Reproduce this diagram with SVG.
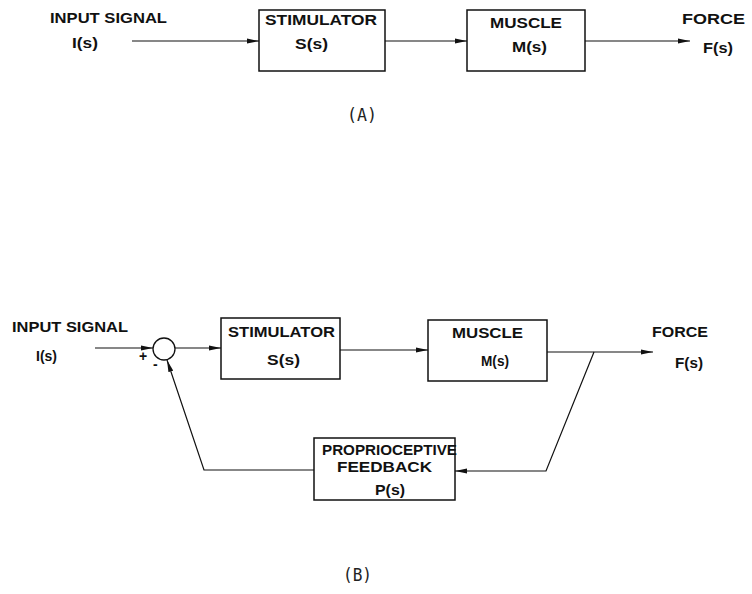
<svg xmlns="http://www.w3.org/2000/svg" width="752" height="594" viewBox="0 0 752 594">
<style>
.lbl{font-family:"Liberation Sans",Arial,sans-serif;font-weight:bold;font-size:15px;fill:#111}
.cap{font-family:"DejaVu Sans Mono","Liberation Mono",monospace;font-size:17px;fill:#222}
.box{fill:none;stroke:#111;stroke-width:1.5}
.ln{fill:none;stroke:#111;stroke-width:1.2}
.sign{font-family:"Liberation Sans",Arial,sans-serif;font-weight:bold;font-size:14px;fill:#111}
</style>
<defs>
<marker id="arr" viewBox="0 0 12 6" refX="12" refY="3" markerWidth="12" markerHeight="6" markerUnits="userSpaceOnUse" orient="auto">
<path d="M0,0.5 L12,3 L0,5.5 Z" fill="#111"/>
</marker>
</defs>
<rect width="752" height="594" fill="#fff"/>

<!-- Part A -->
<g id="a-input">
<text class="lbl" x="50" y="23" textLength="117" lengthAdjust="spacingAndGlyphs">INPUT SIGNAL</text>
<text class="lbl" x="72" y="48" textLength="26" lengthAdjust="spacingAndGlyphs">I(s)</text>
</g>
<g id="a-stimulator">
<rect class="box" x="259" y="10" width="126" height="61"/>
<text class="lbl" x="265" y="25" textLength="112" lengthAdjust="spacingAndGlyphs">STIMULATOR</text>
<text class="lbl" x="295" y="49" textLength="33" lengthAdjust="spacingAndGlyphs">S(s)</text>
</g>
<g id="a-muscle">
<rect class="box" x="467" y="10" width="118" height="61"/>
<text class="lbl" x="490" y="28" textLength="72" lengthAdjust="spacingAndGlyphs">MUSCLE</text>
<text class="lbl" x="512" y="52" textLength="35" lengthAdjust="spacingAndGlyphs">M(s)</text>
</g>
<g id="a-force">
<text class="lbl" x="682" y="24" textLength="63" lengthAdjust="spacingAndGlyphs">FORCE</text>
<text class="lbl" x="703" y="53" textLength="30" lengthAdjust="spacingAndGlyphs">F(s)</text>
</g>
<text class="cap" x="347" y="121" textLength="30" lengthAdjust="spacingAndGlyphs">(A)</text>

<!-- Part B -->
<g id="b-input">
<text class="lbl" x="12" y="332" textLength="116" lengthAdjust="spacingAndGlyphs">INPUT SIGNAL</text>
<text class="lbl" x="36" y="361" textLength="21" lengthAdjust="spacingAndGlyphs">I(s)</text>
</g>
<g id="b-sum">
<circle cx="164" cy="349" r="11" fill="none" stroke="#111" stroke-width="1.3"/>
<text class="sign" x="139" y="361">+</text>
<text class="sign" x="153" y="369">-</text>
</g>
<g id="b-stimulator">
<rect class="box" x="221" y="318" width="119" height="61"/>
<text class="lbl" x="228" y="337" textLength="107" lengthAdjust="spacingAndGlyphs">STIMULATOR</text>
<text class="lbl" x="267" y="365" textLength="33" lengthAdjust="spacingAndGlyphs">S(s)</text>
</g>
<g id="b-muscle">
<rect class="box" x="428" y="320" width="119" height="61"/>
<text class="lbl" x="452" y="338" textLength="71" lengthAdjust="spacingAndGlyphs">MUSCLE</text>
<text class="lbl" x="481" y="366" textLength="28" lengthAdjust="spacingAndGlyphs">M(s)</text>
</g>
<g id="b-force">
<text class="lbl" x="652" y="337" textLength="56" lengthAdjust="spacingAndGlyphs">FORCE</text>
<text class="lbl" x="675" y="368" textLength="28" lengthAdjust="spacingAndGlyphs">F(s)</text>
</g>
<g id="b-feedback">
<rect class="box" x="314" y="438" width="141" height="62"/>
<text class="lbl" x="322" y="455" textLength="135" lengthAdjust="spacingAndGlyphs">PROPRIOCEPTIVE</text>
<text class="lbl" x="337" y="472" textLength="95" lengthAdjust="spacingAndGlyphs">FEEDBACK</text>
<text class="lbl" x="375" y="495" textLength="30" lengthAdjust="spacingAndGlyphs">P(s)</text>
</g>
<text class="cap" x="343" y="581" textLength="29" lengthAdjust="spacingAndGlyphs">(B)</text>

<g id="connectors">
<line class="ln" x1="132" y1="41" x2="259" y2="41" marker-end="url(#arr)"/>
<line class="ln" x1="385" y1="41" x2="467" y2="41" marker-end="url(#arr)"/>
<line class="ln" x1="585" y1="41" x2="690" y2="41" marker-end="url(#arr)"/>

<line class="ln" x1="95" y1="348" x2="153" y2="348" marker-end="url(#arr)"/>
<line class="ln" x1="175" y1="348" x2="221" y2="348" marker-end="url(#arr)"/>
<line class="ln" x1="340" y1="350" x2="428" y2="350" marker-end="url(#arr)"/>
<line class="ln" x1="547" y1="352" x2="653" y2="352" marker-end="url(#arr)"/>
<polyline class="ln" points="594,352 546,471 455,471" marker-end="url(#arr)"/>
<polyline class="ln" points="314,470 204,470 167,360" marker-end="url(#arr)"/>
</g>
</svg>
